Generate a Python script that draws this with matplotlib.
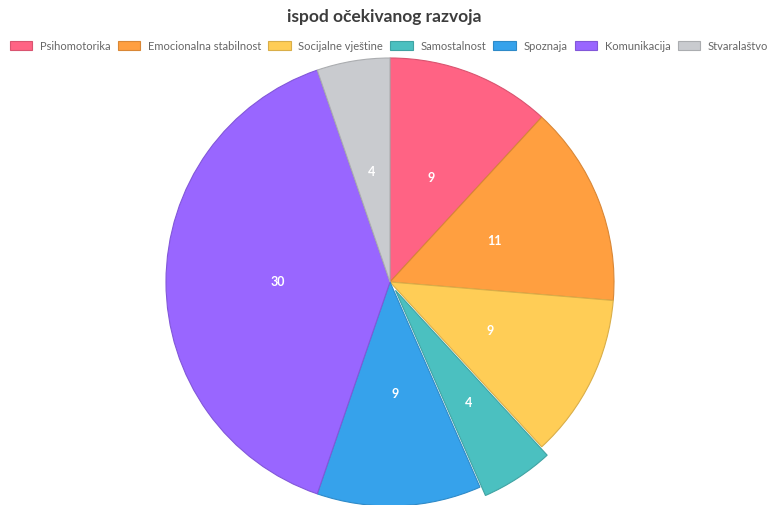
import numpy as np
import matplotlib.pyplot as plt
import matplotlib.colors as mcolors

plt.rcParams['font.family'] = ['Lato', 'DejaVu Sans']

labels = ['Psihomotorika', 'Emocionalna stabilnost', 'Socijalne vještine', 'Samostalnost',
          'Spoznaja', 'Komunikacija', 'Stvaralaštvo']
values = [9, 11, 9, 4, 9, 30, 4]
colors = ['#ff6384', '#ff9f40', '#ffcd56', '#4bc0c0', '#36a2eb', '#9966ff', '#c9cbcf']
# offset of the highlighted slice, in pixels
explode = [0, 0, 0, 10, 0, 0, 0]

W, H = 769, 505
fig = plt.figure(figsize=(W / 100, H / 100), dpi=100)
ax = fig.add_axes([0, 0, 1, 1])

def darker(c, f=0.85):
    r, g, b = mcolors.to_rgb(c)
    return (r * f, g * f, b * f)

wedges, texts, autotexts = ax.pie(
    values, colors=colors, explode=explode, startangle=90, counterclock=False,
    center=(390, H - 282), radius=224, autopct=lambda p: f'{round(p * sum(values) / 100):d}',
    pctdistance=0.5, textprops=dict(color='white', fontsize=9, fontweight='bold'),
    frame=True)
ax.set_xlim(0, W)
ax.set_ylim(0, H)
ax.axis('off')
for w, c, t, e in zip(wedges, colors, autotexts, explode):
    w.set_edgecolor(darker(c))
    w.set_linewidth(0.8)
    w.set_clip_on(False)
    if e:
        # label of the pulled-out slice sits a bit further out
        th = np.deg2rad((w.theta1 + w.theta2) / 2)
        cx, cy = w.center
        t.set_position((cx + 0.6 * w.r * np.cos(th), cy + 0.6 * w.r * np.sin(th)))

fig.text(0.5, 1 - 17 / H, 'ispod očekivanog razvoja', ha='center', va='center',
         fontsize=12.5, fontweight='bold', color='#3d3d3d')

handles = [plt.Rectangle((0, 0), 1, 1, facecolor=c, edgecolor=darker(c), linewidth=0.8) for c in colors]
fig.legend(handles, labels, loc='center', bbox_to_anchor=(389 / W, 1 - 46 / H), ncol=7,
           frameon=False, fontsize=8, handlelength=2.0, handleheight=0.9,
           handletextpad=0.7, columnspacing=0.65, labelcolor='#666666', borderaxespad=0)

fig.savefig('out.png', dpi=100)
